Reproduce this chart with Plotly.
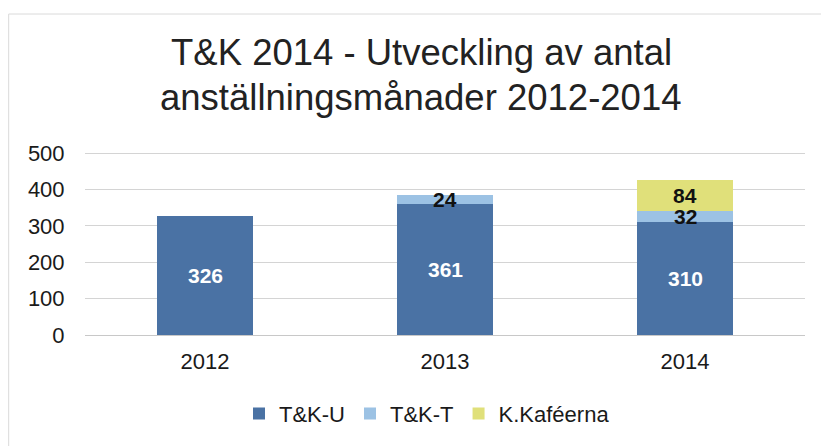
import plotly.graph_objects as go

years = ["2012", "2013", "2014"]
series_names = ["T&K-U", "T&K-T", "K.Kaféerna"]
tku = [326, 361, 310]
tkt = [None, 24, 32]
kaf = [None, None, 84]
colors = ["#4a72a4", "#9cc2e4", "#e0e07a"]
label_colors = ["white", "#111111", "#111111"]
y_ticks = [0, 100, 200, 300, 400, 500]
title_lines = ["T&K 2014 - Utveckling av antal", "anställningsmånader 2012-2014"]

FONT = "Liberation Sans, Arial, sans-serif"

fig = go.Figure()
all_series = [tku, tkt, kaf]
for name, vals, col in zip(series_names, all_series, colors):
    fig.add_trace(go.Bar(x=years, y=vals, name=name, marker_color=col,
                         marker_line_width=0))

annotations = []
# data labels centered in each segment
for i, yr in enumerate(years):
    base = 0
    for vals, lc in zip(all_series, label_colors):
        v = vals[i]
        if v is None:
            continue
        annotations.append(dict(x=i, y=base + v / 2, text=f"<b>{v}</b>",
                                showarrow=False, xref="x", yref="y",
                                font=dict(size=21, color=lc, family=FONT)))
        base += v

# two-line title
for line, ypos in zip(title_lines, [1.545, 1.30]):
    annotations.append(dict(x=0.467, y=ypos, xref="paper", yref="paper",
                            xanchor="center", yanchor="middle", showarrow=False,
                            text=line, font=dict(size=36.5, color="#222222", family=FONT)))

fig.update_layout(
    barmode="stack",
    bargap=0.6,
    width=829, height=446,
    paper_bgcolor="white", plot_bgcolor="white",
    margin=dict(l=77, r=32, t=144, b=119, autoexpand=False),
    font=dict(family=FONT, color="#1a1a1a"),
    legend=dict(orientation="h", x=0.475, xanchor="center", y=-0.43, yanchor="middle",
                font=dict(size=22, color="#1a1a1a"),
                traceorder="normal"),
    annotations=annotations,
    shapes=[dict(type="rect", xref="paper", yref="paper",
                 x0=-0.106, x1=1.2, y0=-1.2, y1=1.754,
                 line=dict(color="#dadada", width=1), layer="below")],
)
fig.update_xaxes(type="category", showgrid=False, showline=False, automargin=False,
                 ticks="outside", ticklen=7, tickcolor="rgba(0,0,0,0)",
                 tickfont=dict(size=22, color="#1a1a1a"))
fig.update_yaxes(range=[0, 503], tickvals=y_ticks, showgrid=True, automargin=False,
                 gridcolor="#d4d4d4", gridwidth=1, zeroline=True,
                 zerolinecolor="#c8c8c8", zerolinewidth=1,
                 ticks="outside", ticklen=15, tickcolor="rgba(0,0,0,0)",
                 tickfont=dict(size=22, color="#1a1a1a"))

fig.write_html("out.html")
